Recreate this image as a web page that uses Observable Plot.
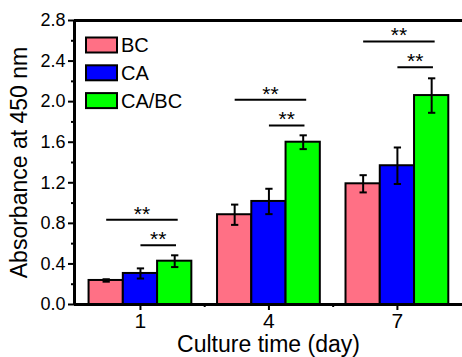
<!DOCTYPE html>
<html>
<head>
<meta charset="utf-8">
<script src="https://cdn.jsdelivr.net/npm/d3@7"></script>
<script src="https://cdn.jsdelivr.net/npm/@observablehq/plot@0.6"></script>
<style>
  html, body { margin: 0; padding: 0; background: #fff; }
  #chart { position: relative; width: 462px; height: 357px; font-family: "Liberation Sans", Arial, sans-serif; }
</style>
</head>
<body>
<div id="chart"></div>
<script>
// ---- data ----
const days = [1, 4, 7];
const seriesNames = ["BC", "CA", "CA/BC"];
const seriesColors = ["#ff7085", "#0000ff", "#00ff00"];
const bcMean = [0.237, 0.885, 1.19];
const bcErr = [0.012, 0.10, 0.085];
const caMean = [0.306, 1.016, 1.368];
const caErr = [0.05, 0.125, 0.18];
const cabcMean = [0.427, 1.60, 2.06];
const cabcErr = [0.058, 0.068, 0.17];
const sigLongY = [0.835, 2.018, 2.594];
const sigShortY = [0.585, 1.765, 2.34];
const sigLabel = "**";
const yTicks = [0, 0.4, 0.8, 1.2, 1.6, 2.0, 2.4, 2.8];
const yMinorTicks = [0.2, 0.6, 1.0, 1.4, 1.8, 2.2, 2.6];
const xMinorTicks = [2.5, 5.5];
const xTitle = "Culture time (day)";
const yTitle = "Absorbance at 450 nm";

// ---- derived table ----
const means = [bcMean, caMean, cabcMean];
const errs = [bcErr, caErr, cabcErr];
const barW = 0.8;
const rows = [];
seriesNames.forEach((s, i) => {
  days.forEach((d, j) => {
    rows.push({day: d, s: i, cx: d + (i - 1) * barW, mean: means[i][j], err: errs[i][j], color: seriesColors[i]});
  });
});
const sig = [];
days.forEach((d, j) => {
  sig.push({x1: d - 0.8, x2: d + 0.87, y: sigLongY[j]});
  sig.push({x1: d + 0.0, x2: d + 0.83, y: sigShortY[j]});
});
const capW = 0.085;
const xDomain = [-0.54, 8.52];
const font = "Liberation Sans, Arial, sans-serif";

const svg = Plot.plot({
  width: 462,
  height: 357,
  marginLeft: 74,
  marginRight: 0,
  marginTop: 20,
  marginBottom: 53,
  style: {fontFamily: font, background: "white", color: "black"},
  x: {domain: xDomain},
  y: {domain: [0, 2.8]},
  color: {type: "identity"},
  marks: [
    Plot.rect(rows, {x1: d => d.cx - barW / 2, x2: d => d.cx + barW / 2, y1: 0, y2: d => d.mean, fill: d => d.color, stroke: "black", strokeWidth: 2}),
    Plot.link(rows, {x1: d => d.cx, x2: d => d.cx, y1: d => d.mean - d.err, y2: d => d.mean + d.err, stroke: "black", strokeWidth: 2}),
    Plot.link(rows, {x1: d => d.cx - capW, x2: d => d.cx + capW, y1: d => d.mean + d.err, y2: d => d.mean + d.err, stroke: "black", strokeWidth: 2}),
    Plot.link(rows, {x1: d => d.cx - capW, x2: d => d.cx + capW, y1: d => d.mean - d.err, y2: d => d.mean - d.err, stroke: "black", strokeWidth: 2}),
    Plot.link(sig, {x1: "x1", x2: "x2", y1: "y", y2: "y", stroke: "black", strokeWidth: 2}),
    Plot.text(sig, {x: d => (d.x1 + d.x2) / 2, y: "y", text: () => sigLabel, dy: -6, fontSize: 21, fill: "black"}),
    Plot.ruleY([0, 2.8], {stroke: "black", strokeWidth: 3}),
    Plot.ruleX([xDomain[0]], {stroke: "black", strokeWidth: 3}),
    Plot.axisY(yTicks, {tickSize: 6, tickPadding: 3, fontSize: 18, strokeWidth: 2, tickFormat: d => d.toFixed(1), label: null}),
    Plot.axisY(yMinorTicks, {tickSize: 3, strokeWidth: 2, tickFormat: () => "", label: null}),
    Plot.axisX(days, {tickSize: 6, tickPadding: 3, fontSize: 21, strokeWidth: 2, label: null}),
    Plot.axisX(xMinorTicks, {tickSize: 3, strokeWidth: 2, tickFormat: () => "", label: null}),
    Plot.text([xTitle], {frameAnchor: "bottom", text: d => d, textAnchor: "middle", dy: 47, fontSize: 23, fill: "black"}),
    Plot.text([yTitle], {frameAnchor: "left", text: d => d, textAnchor: "middle", rotate: -90, dx: -55, fontSize: 23, fill: "black"})
  ]
});

// legend inside the frame
const lg = d3.select(svg).append("g").attr("font-family", font).attr("text-anchor", "start");
seriesNames.forEach((s, i) => {
  const cy = 45 + i * 27.8;
  lg.append("rect").attr("x", 86).attr("y", cy - 7.5).attr("width", 31).attr("height", 15)
    .attr("fill", seriesColors[i]).attr("stroke", "black").attr("stroke-width", 2);
  lg.append("text").attr("x", 121).attr("y", cy).attr("dy", "0.36em")
    .attr("text-anchor", "start")
    .attr("font-size", 20).attr("fill", "black").text(s);
});

document.getElementById("chart").appendChild(svg);
</script>
</body>
</html>
